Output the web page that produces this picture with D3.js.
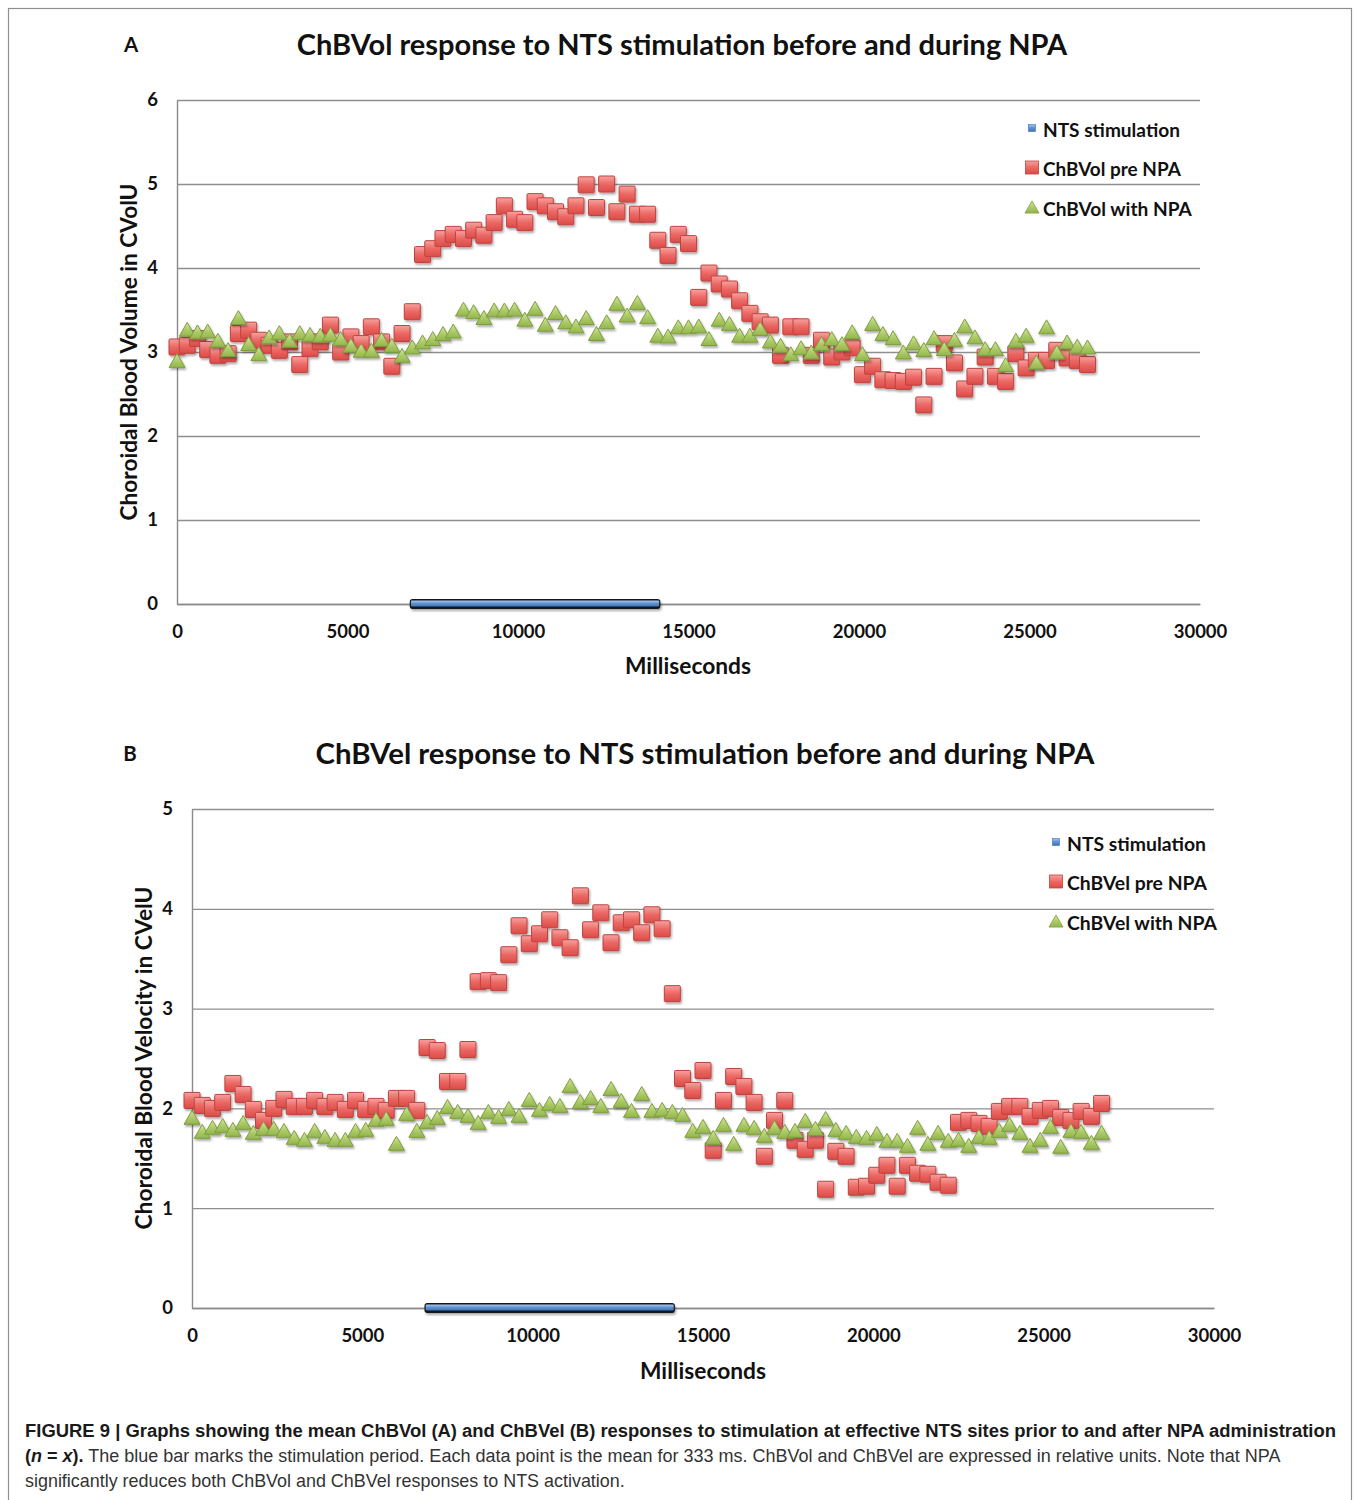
<!DOCTYPE html>
<html>
<head>
<meta charset="utf-8">
<script src="https://cdn.jsdelivr.net/npm/d3@7"></script>
<style>
  body { margin: 0; background: #fff; }
  svg { display: block; }
</style>
</head>
<body>
<script>
// sample times (ms), one point per averaging window
const timesMs = [
  0,300,600,900,1200,1500,1800,2100,2400,2700,
  3000,3300,3600,3900,4200,4500,4800,5100,5400,5700,
  6000,6300,6600,6900,7200,7500,7800,8100,8400,8700,
  9000,9300,9600,9900,10200,10500,10800,11100,11400,11700,
  12000,12300,12600,12900,13200,13500,13800,14100,14400,14700,
  15000,15300,15600,15900,16200,16500,16800,17100,17400,17700,
  18000,18300,18600,18900,19200,19500,19800,20100,20400,20700,
  21000,21300,21600,21900,22200,22500,22800,23100,23400,23700,
  24000,24300,24600,24900,25200,25500,25800,26100,26400,26700
]

// NTS stimulation period (markers sit on y = 0)
const stimTimes = [
  7000,7300,7600,7900,8200,8500,8800,9100,9400,9700,10000,10300,
  10600,10900,11200,11500,11800,12100,12400,12700,13000,13300,13600,13900,14000
]

// Panel A: ChBVol
const volPre = [
  3.06,3.08,3.16,3.03,2.96,2.98,3.22,3.26,3.14,3.08,
  3.02,3.12,2.85,3.04,3.12,3.32,3.00,3.18,3.10,3.30,
  3.12,2.83,3.22,3.48,4.16,4.23,4.35,4.40,4.35,4.45,
  4.39,4.54,4.74,4.58,4.54,4.79,4.74,4.67,4.61,4.74,
  4.99,4.72,5.00,4.67,4.88,4.64,4.64,4.33,4.15,4.40,
  4.29,3.65,3.94,3.81,3.75,3.61,3.46,3.36,3.32,2.96,
  3.30,3.30,2.96,3.14,2.94,3.00,3.05,2.73,2.83,2.67,
  2.66,2.65,2.70,2.37,2.71,3.10,2.87,2.56,2.71,2.94,
  2.71,2.65,2.98,2.81,2.90,2.90,3.02,2.93,2.90,2.85
]
const volNpa = [
  2.90,3.27,3.24,3.25,3.14,3.03,3.41,3.10,2.98,3.18,
  3.23,3.14,3.23,3.21,3.20,3.21,3.16,3.08,3.02,3.02,
  3.15,3.08,2.96,3.06,3.12,3.16,3.22,3.25,3.51,3.48,
  3.41,3.50,3.50,3.51,3.39,3.52,3.33,3.47,3.36,3.31,
  3.41,3.22,3.36,3.58,3.44,3.59,3.42,3.20,3.19,3.30,
  3.30,3.31,3.16,3.39,3.34,3.20,3.20,3.28,3.13,3.08,
  2.98,3.05,3.00,3.10,3.16,3.10,3.24,2.98,3.34,3.22,
  3.17,3.00,3.11,3.03,3.17,3.04,3.15,3.31,3.18,3.04,
  3.04,2.85,3.14,3.20,2.88,3.30,3.00,3.12,3.07,3.06
]

// Panel B: ChBVel
const velPre = [
  2.08,2.03,2.00,2.06,2.25,2.14,1.99,1.88,2.00,2.09,
  2.02,2.02,2.08,2.02,2.06,1.99,2.08,1.99,2.02,1.98,
  2.10,2.10,1.98,2.61,2.58,2.27,2.27,2.59,3.27,3.28,
  3.26,3.54,3.83,3.65,3.75,3.89,3.71,3.61,4.13,3.79,
  3.96,3.66,3.86,3.89,3.76,3.94,3.80,3.15,2.30,2.18,
  2.38,1.58,2.08,2.32,2.22,2.06,1.52,1.88,2.08,1.68,
  1.59,1.68,1.19,1.57,1.52,1.21,1.22,1.33,1.43,1.22,
  1.43,1.35,1.34,1.26,1.23,1.86,1.88,1.85,1.82,1.97,
  2.02,2.02,1.92,1.98,2.00,1.91,1.88,1.97,1.92,2.05
]
const velNpa = [
  1.91,1.77,1.81,1.83,1.79,1.86,1.76,1.80,1.80,1.78,
  1.71,1.69,1.78,1.72,1.69,1.69,1.78,1.79,1.89,1.90,
  1.65,1.95,1.78,1.87,1.91,2.02,1.97,1.93,1.86,1.97,
  1.92,2.00,1.93,2.09,1.99,2.05,2.03,2.23,2.07,2.11,
  2.03,2.20,2.08,1.98,2.15,1.98,1.99,1.97,1.94,1.78,
  1.82,1.71,1.84,1.65,1.84,1.81,1.73,1.81,1.77,1.78,
  1.88,1.80,1.90,1.79,1.76,1.72,1.71,1.75,1.68,1.68,
  1.63,1.81,1.65,1.76,1.68,1.69,1.63,1.72,1.71,1.78,
  1.84,1.76,1.63,1.69,1.82,1.62,1.78,1.77,1.66,1.76
]

const xTicks = [0,5000,10000,15000,20000,25000,30000]

const W = 1354, H = 1500
const chartFont = "Lato, 'Open Sans', sans-serif"
const capFont = "'Liberation Sans', Arial, sans-serif"

let svg = d3.select("body").append("svg")
  .attr("width", W)
  .attr("height", H)

// gradients + shadow, office-ish look
let defs = svg.append("defs")
function vGrad(id, stops) {
  let lg = defs.append("linearGradient").attr("id", id)
    .attr("x1", 0).attr("y1", 0).attr("x2", 0).attr("y2", 1)
  stops.forEach(s => lg.append("stop").attr("offset", s[0]).attr("stop-color", s[1]))
}
vGrad("gRed", [[0, "#f7a29e"], [0.5, "#eb6864"], [1, "#dc4b47"]])
vGrad("gGreen", [[0, "#d3e6a2"], [0.55, "#abca66"], [1, "#93b54e"]])
vGrad("gBlue", [[0, "#a9c8ef"], [0.5, "#5b8fd0"], [1, "#3f73b5"]])

let shadow = defs.append("filter").attr("id", "shadow")
  .attr("x", "-20%").attr("y", "-20%").attr("width", "140%").attr("height", "160%")
shadow.append("feDropShadow")
  .attr("dx", 1.2).attr("dy", 2).attr("stdDeviation", 1.3)
  .attr("flood-color", "#000").attr("flood-opacity", 0.33)

// outer frame
svg.append("rect")
  .attr("x", 8.5).attr("y", 8.5)
  .attr("width", 1343).attr("height", 1510)
  .attr("fill", "none")
  .attr("stroke", "#8f8f8f")
  .attr("stroke-width", 1.2)

// shrink/grow font so the text spans a given width
function fitWidth(sel, target) {
  let fs = parseFloat(sel.attr("font-size"))
  let w = sel.node().getComputedTextLength()
  if (w > 0 && fs > 0) sel.attr("font-size", (fs * target / w).toFixed(2))
}

function triPath(w) {
  let h = w * 0.87
  return `M0,${-h / 2}L${w / 2},${h / 2}L${-w / 2},${h / 2}Z`
}

function drawPanel(p) {
  let g = svg.append("g")

  let x = d3.scaleLinear().domain([0, 30000]).range([p.left, p.right])
  let y = d3.scaleLinear().domain([0, p.yMax]).range([p.bottom, p.top])

  // y axis + horizontal gridlines
  let yAxis = g.append("g")
    .attr("transform", `translate(${p.left},0)`)
    .call(d3.axisLeft(y).ticks(p.yMax).tickSize(-(p.right - p.left)).tickSizeOuter(0).tickPadding(19))
  yAxis.select(".domain").attr("stroke", "#8a8a8a").attr("stroke-width", 1.4)
  yAxis.selectAll(".tick line").attr("stroke", "#8f8f8f").attr("stroke-width", 1.3)
  yAxis.selectAll(".tick text")
    .attr("font-family", chartFont).attr("font-weight", 700)
    .attr("font-size", 18.5).attr("fill", "#111")

  // x axis
  let xAxis = g.append("g")
    .attr("transform", `translate(0,${p.bottom})`)
    .call(d3.axisBottom(x).tickValues(xTicks).tickSize(0).tickPadding(21).tickFormat(d3.format("d")))
  xAxis.select(".domain").attr("stroke", "#8a8a8a").attr("stroke-width", 1.4)
  xAxis.selectAll(".tick text")
    .attr("font-family", chartFont).attr("font-weight", 700)
    .attr("font-size", 18.5).attr("fill", "#111")

  // stimulation period: its markers merge into one bar on y = 0
  let ext = d3.extent(stimTimes)
  let stim = g.append("g").attr("filter", "url(#shadow)")
  stim.append("rect")
    .attr("x", x(ext[0]) - 6)
    .attr("y", y(0) - 5)
    .attr("width", x(ext[1]) - x(ext[0]) + 12)
    .attr("height", 10)
    .attr("rx", 3)
    .attr("fill", "#141414")
  stim.append("rect")
    .attr("x", x(ext[0]) - 4.8)
    .attr("y", y(0) - 3.4)
    .attr("width", x(ext[1]) - x(ext[0]) + 9.6)
    .attr("height", 6)
    .attr("rx", 1)
    .attr("fill", "url(#gBlue)")

  // pre NPA squares
  g.append("g").attr("filter", "url(#shadow)")
    .selectAll("rect")
    .data(p.pre)
    .enter()
    .append("rect")
    .attr("x", (d, i) => x(timesMs[i]) - 8)
    .attr("y", d => y(d) - 8)
    .attr("width", 16)
    .attr("height", 16)
    .attr("rx", 1)
    .attr("fill", "url(#gRed)")
    .attr("stroke", "#bc4440")
    .attr("stroke-width", 1)

  // with NPA triangles
  g.append("g").attr("filter", "url(#shadow)")
    .selectAll("path")
    .data(p.npa)
    .enter()
    .append("path")
    .attr("d", triPath(16))
    .attr("transform", (d, i) => `translate(${x(timesMs[i])},${y(d)})`)
    .attr("fill", "url(#gGreen)")
    .attr("stroke", "#7e9d3e")
    .attr("stroke-width", 1)
    .attr("stroke-linejoin", "round")

  // legend
  let leg = g.append("g")
  let rows = p.legend
  rows.forEach((lab, i) => {
    let cy = p.legY + i * 39.5
    if (i === 0) {
      leg.append("rect").attr("x", p.legX - 3.5).attr("y", cy - 3.5)
        .attr("width", 7).attr("height", 7).attr("fill", "url(#gBlue)")
        .attr("stroke", "#3d6fae").attr("stroke-width", 0.6)
    } else if (i === 1) {
      leg.append("rect").attr("x", p.legX - 6.5).attr("y", cy - 6.5)
        .attr("width", 13).attr("height", 13).attr("fill", "url(#gRed)")
        .attr("stroke", "#bc4440").attr("stroke-width", 0.8)
    } else {
      leg.append("path").attr("d", triPath(14))
        .attr("transform", `translate(${p.legX},${cy})`)
        .attr("fill", "url(#gGreen)").attr("stroke", "#7e9d3e").attr("stroke-width", 0.8)
    }
    let t = leg.append("text")
      .attr("x", p.legX + 11).attr("y", cy + 1)
      .attr("dominant-baseline", "central")
      .attr("font-family", chartFont).attr("font-weight", 700)
      .attr("font-size", 19).attr("fill", "#111")
      .text(lab)
    fitWidth(t, p.legW[i])
  })

  // titles
  let title = g.append("text")
    .attr("x", p.titleX).attr("y", p.titleY)
    .attr("text-anchor", "middle").attr("dominant-baseline", "central")
    .attr("font-family", chartFont).attr("font-weight", 700)
    .attr("font-size", 27).attr("fill", "#111")
    .text(p.title)
  fitWidth(title, p.titleW)

  g.append("text")
    .attr("x", p.tagX).attr("y", p.titleY + 1)
    .attr("text-anchor", "middle").attr("dominant-baseline", "central")
    .attr("font-family", chartFont).attr("font-weight", 700)
    .attr("font-size", 20.5).attr("fill", "#111")
    .text(p.tag)

  let yl = g.append("text")
    .attr("transform", `translate(${p.yLabX},${p.yLabY}) rotate(-90)`)
    .attr("text-anchor", "middle").attr("dominant-baseline", "central")
    .attr("font-family", chartFont).attr("font-weight", 700)
    .attr("font-size", 21).attr("fill", "#111")
    .text(p.yLabel)
  fitWidth(yl, p.yLabW)

  let xl = g.append("text")
    .attr("x", p.xLabX).attr("y", p.xLabY)
    .attr("text-anchor", "middle").attr("dominant-baseline", "central")
    .attr("font-family", chartFont).attr("font-weight", 700)
    .attr("font-size", 21).attr("fill", "#111")
    .text("Milliseconds")
  fitWidth(xl, 126)
}

drawPanel({
  left: 177, right: 1200, top: 100, bottom: 604, yMax: 6,
  pre: volPre, npa: volNpa,
  legend: ["NTS stimulation", "ChBVol pre NPA", "ChBVol with NPA"],
  legX: 1032, legY: 128, legW: [137, 138, 149],
  title: "ChBVol response to NTS stimulation before and during NPA",
  titleX: 682, titleY: 43, titleW: 771,
  tag: "A", tagX: 131,
  yLabel: "Choroidal Blood Volume in CVolU", yLabX: 128, yLabY: 352, yLabW: 337,
  xLabX: 688, xLabY: 665
})

drawPanel({
  left: 192, right: 1214, top: 809, bottom: 1308, yMax: 5,
  pre: velPre, npa: velNpa,
  legend: ["NTS stimulation", "ChBVel pre NPA", "ChBVel with NPA"],
  legX: 1056, legY: 842, legW: [139, 140, 150],
  title: "ChBVel response to NTS stimulation before and during NPA",
  titleX: 705, titleY: 752, titleW: 779,
  tag: "B", tagX: 130,
  yLabel: "Choroidal Blood Velocity in CVelU", yLabX: 143, yLabY: 1058, yLabW: 343,
  xLabX: 703, xLabY: 1370
})

// caption
let cap = svg.append("g")
  .attr("font-family", capFont)

let c1 = cap.append("text").attr("x", 25).attr("y", 1437)
  .attr("font-size", 16.5)
  .attr("font-weight", 700).attr("fill", "#1a1a1a")
  .text("FIGURE 9 | Graphs showing the mean ChBVol (A) and ChBVel (B) responses to stimulation at effective NTS sites prior to and after NPA administration")
fitWidth(c1, 1311)

let c2 = cap.append("text").attr("x", 25).attr("y", 1462)
  .attr("font-size", 16.5).attr("fill", "#333")
c2.append("tspan").attr("font-weight", 700).attr("fill", "#1a1a1a").text("(")
c2.append("tspan").attr("font-weight", 700).attr("font-style", "italic").attr("fill", "#1a1a1a").text("n")
c2.append("tspan").attr("font-weight", 700).attr("fill", "#1a1a1a").text(" = ")
c2.append("tspan").attr("font-weight", 700).attr("font-style", "italic").attr("fill", "#1a1a1a").text("x")
c2.append("tspan").attr("font-weight", 700).attr("fill", "#1a1a1a").text(").")
c2.append("tspan").text(" The blue bar marks the stimulation period. Each data point is the mean for 333 ms. ChBVol and ChBVel are expressed in relative units. Note that NPA")
fitWidth(c2, 1256)

let c3 = cap.append("text").attr("x", 25).attr("y", 1487)
  .attr("font-size", 16.5).attr("fill", "#333")
  .text("significantly reduces both ChBVol and ChBVel responses to NTS activation.")
fitWidth(c3, 600)
</script>
</body>
</html>
